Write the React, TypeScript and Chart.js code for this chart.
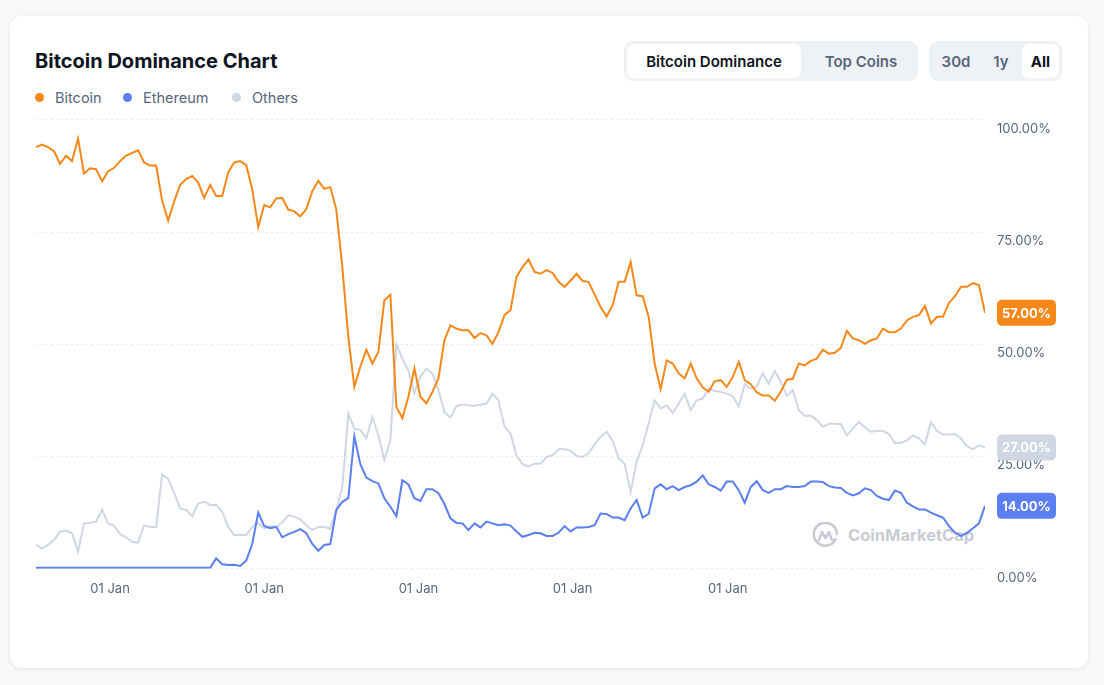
import React, { useEffect, useRef } from "react";
import { Chart, registerables } from "chart.js";

Chart.register(...registerables);

// Sampled roughly every two weeks, left to right.
const bitcoin = [
  93.9, 94.5, 93.9, 93.0, 90.2, 92.0, 90.8, 95.8, 88.0, 89.2,
  89.0, 86.3, 88.5, 89.3, 90.8, 92.0, 92.6, 93.2, 90.5, 89.8,
  89.8, 82.0, 77.5, 81.8, 85.5, 86.8, 87.5, 86.0, 82.6, 85.5,
  83.0, 83.0, 88.3, 90.5, 90.8, 89.9, 84.5, 76.1, 81.0, 80.5,
  82.5, 82.6, 80.0, 79.6, 78.5, 80.1, 84.1, 86.4, 84.6, 85.0,
  80.0, 67.2, 51.6, 40.5, 45.0, 48.8, 45.7, 48.3, 59.8, 61.0,
  36.0, 33.5, 38.3, 44.6, 38.3, 36.8, 39.4, 42.4, 50.9, 54.2,
  53.5, 53.1, 53.1, 51.4, 52.5, 52.0, 50.1, 52.7, 56.5, 57.6,
  65.0, 67.2, 68.9, 66.1, 65.7, 66.5, 65.9, 63.9, 62.8, 64.2,
  65.7, 64.1, 63.9, 61.1, 58.3, 56.2, 58.7, 63.9, 63.9, 68.3,
  60.9, 60.7, 56.1, 45.7, 40.0, 46.4, 45.7, 43.5, 42.4, 45.7,
  42.4, 40.4, 39.4, 41.8, 42.0, 40.5, 42.7, 46.1, 42.0, 41.1,
  39.3, 38.6, 38.6, 37.4, 39.4, 42.1, 42.3, 45.7, 45.3, 46.3,
  46.8, 48.8, 47.9, 48.1, 49.2, 53.0, 51.3, 50.9, 50.1, 50.9,
  51.3, 53.5, 52.7, 52.7, 53.5, 55.3, 56.1, 56.5, 58.5, 54.6,
  56.1, 56.1, 59.2, 60.7, 62.8, 62.8, 63.6, 63.2, 57.0,
];

const ethereum = [
  0.2, 0.2, 0.2, 0.2, 0.2, 0.2, 0.2, 0.2, 0.2, 0.2,
  0.2, 0.2, 0.2, 0.2, 0.2, 0.2, 0.2, 0.2, 0.2, 0.2,
  0.2, 0.2, 0.2, 0.2, 0.2, 0.2, 0.2, 0.2, 0.2, 0.2,
  2.3, 1.0, 0.8, 0.9, 0.6, 1.8, 5.5, 12.5, 9.5, 9.0,
  9.3, 7.0, 7.7, 8.2, 8.8, 7.9, 5.5, 4.0, 5.3, 5.5,
  13.1, 14.9, 15.7, 29.5, 23.3, 20.3, 19.5, 19.0, 15.7, 13.8,
  11.7, 19.7, 18.8, 15.7, 15.1, 17.7, 17.7, 16.8, 14.4, 11.2,
  10.2, 10.1, 8.6, 10.1, 9.2, 10.5, 10.1, 9.7, 9.9, 9.6,
  8.3, 7.1, 7.5, 8.0, 7.9, 7.3, 7.3, 8.0, 9.5, 8.3,
  9.2, 9.2, 9.3, 9.7, 12.3, 12.2, 11.4, 11.4, 10.8, 13.4,
  15.3, 11.4, 12.2, 17.9, 18.8, 17.7, 18.4, 17.5, 18.2, 18.6,
  19.4, 20.8, 18.8, 18.2, 17.4, 19.4, 19.4, 17.5, 14.7, 18.2,
  19.5, 17.5, 16.9, 17.7, 17.7, 18.4, 18.2, 18.2, 18.4, 19.4,
  19.4, 19.3, 18.4, 18.1, 18.0, 16.9, 16.3, 16.8, 17.9, 17.5,
  16.2, 15.6, 15.3, 17.4, 16.9, 14.7, 13.9, 13.2, 13.2, 12.5,
  11.9, 11.4, 9.5, 8.0, 7.3, 8.0, 9.0, 10.1, 14.0,
];

const others = [
  5.3, 4.5, 5.3, 6.4, 8.2, 8.5, 7.9, 3.8, 10.1, 10.2,
  10.5, 13.1, 10.1, 9.6, 7.7, 7.0, 6.0, 5.8, 9.7, 9.3,
  9.3, 21.0, 20.0, 16.9, 13.4, 13.1, 11.7, 14.5, 14.9, 14.2,
  14.2, 12.7, 9.3, 7.5, 7.5, 7.5, 9.3, 10.1, 9.0, 9.5,
  9.3, 10.3, 11.9, 11.6, 11.0, 9.7, 8.6, 9.3, 9.3, 8.9,
  13.1, 18.2, 34.5, 31.2, 30.9, 29.0, 33.8, 29.7, 24.2, 28.6,
  50.0, 46.8, 44.1, 39.2, 42.7, 44.6, 43.5, 39.8, 34.9, 33.7,
  36.2, 36.6, 36.4, 36.3, 36.5, 36.8, 39.0, 37.5, 31.6, 30.1,
  25.2, 23.3, 22.8, 23.4, 23.4, 24.9, 25.3, 26.6, 26.6, 26.3,
  25.1, 24.9, 25.7, 27.7, 29.4, 30.5, 28.5, 24.6, 23.3, 17.1,
  23.8, 27.5, 32.3, 37.5, 35.7, 36.4, 34.7, 36.8, 38.9, 35.3,
  37.5, 37.9, 40.1, 39.6, 39.4, 39.0, 38.4, 36.2, 41.1, 40.1,
  40.6, 43.5, 41.2, 44.1, 41.6, 38.5, 39.8, 35.3, 34.0, 34.1,
  33.1, 31.6, 32.3, 32.3, 32.2, 29.7, 31.2, 32.7, 31.5, 30.5,
  30.7, 30.7, 30.0, 28.0, 28.0, 28.6, 29.7, 29.0, 27.7, 32.7,
  30.7, 29.9, 29.9, 30.0, 29.0, 27.3, 26.6, 27.5, 27.0,
];

// Positions (in sample index units) where 1 January falls.
const janTickPositions = [12.33, 38, 63.67, 89.33, 115.17];
const janTickLabel = "01 Jan";
const yTickValues = [0, 25, 50, 75, 100];

const seriesNames = ["Bitcoin", "Ethereum", "Others"];
const seriesColors = ["#f68819", "#5b7ff0", "#cfd6e4"];

const FONT = "Inter, 'Noto Sans', sans-serif";

export default function App() {
  const canvasRef = useRef<HTMLCanvasElement | null>(null);

  useEffect(() => {
    document.body.style.margin = "0";
    const canvas = canvasRef.current;
    if (!canvas) return;
    const series = [bitcoin, ethereum, others];

    const badgePlugin = {
      id: "lastValueBadges",
      afterDraw(chart: any) {
        const { ctx, chartArea, scales } = chart;
        const order = [2, 1, 0];
        ctx.save();
        order.forEach((si) => {
          const arr = series[si];
          const v = arr[arr.length - 1];
          const y = scales.y.getPixelForValue(v);
          const x = chartArea.right + 12;
          const w = 59;
          const h = 26;
          ctx.fillStyle = seriesColors[si];
          ctx.beginPath();
          ctx.roundRect(x, y - h / 2, w, h, 5);
          ctx.fill();
          ctx.fillStyle = "#ffffff";
          ctx.font = `700 13px ${FONT}`;
          ctx.textAlign = "center";
          ctx.textBaseline = "middle";
          ctx.fillText(v.toFixed(2) + "%", x + w / 2, y + 1);
        });
        ctx.restore();
      },
    };

    const chart = new Chart(canvas, {
      type: "line",
      data: {
        datasets: series.map((arr, si) => ({
          label: seriesNames[si],
          data: arr.map((v, i) => ({ x: i, y: v })),
          borderColor: seriesColors[si],
          backgroundColor: seriesColors[si],
          borderWidth: 2,
          pointRadius: 0,
          tension: 0,
          order: si,
        })),
      },
      options: {
        animation: false,
        responsive: false,
        maintainAspectRatio: false,
        layout: { padding: { left: 16, top: 0, right: 0, bottom: 0 } },
        plugins: { legend: { display: false }, tooltip: { enabled: false } },
        scales: {
          x: {
            type: "linear",
            min: 0,
            max: bitcoin.length - 1,
            grid: { display: false, drawTicks: false },
            border: { display: false },
            afterBuildTicks: (scale: any) => {
              scale.ticks = janTickPositions.map((p) => ({ value: p }));
            },
            afterFit: (scale: any) => {
              scale.height = 41.3;
            },
            ticks: {
              autoSkip: false,
              maxRotation: 0,
              padding: 13,
              color: "#58667e",
              font: { family: FONT, size: 13 },
              callback: () => janTickLabel,
            },
          },
          y: {
            position: "right",
            min: 0,
            max: 100,
            afterBuildTicks: (scale: any) => {
              scale.ticks = yTickValues.map((v) => ({ value: v }));
            },
            afterFit: (scale: any) => {
              scale.width = 95;
            },
            grid: { color: "#e6e9ee", lineWidth: 1, drawTicks: false },
            border: { display: false, dash: [2, 3] },
            ticks: {
              padding: 12,
              labelOffset: 9,
              color: "#58667e",
              font: { family: FONT, size: 13 },
              callback: (v: any) => Number(v).toFixed(2) + "%",
            },
          },
        },
      },
      plugins: [badgePlugin],
    });
    return () => chart.destroy();
  }, []);

  const legendItem = (name: string, color: string, left: number) => (
    <div
      key={name}
      style={{
        position: "absolute",
        left,
        top: 88,
        height: 18,
        display: "flex",
        alignItems: "center",
        fontSize: 14.5,
        color: "#58667e",
      }}
    >
      <span
        style={{
          width: 9,
          height: 9,
          borderRadius: "50%",
          background: color,
          display: "inline-block",
          marginRight: 11,
        }}
      />
      {name}
    </div>
  );

  const legendLefts = [35, 123, 232];

  const tabText = {
    position: "absolute" as const,
    top: 44,
    height: 34,
    display: "flex",
    alignItems: "center",
    justifyContent: "center",
    fontSize: 15,
    fontWeight: 600,
    color: "#58667e",
  };

  return (
    <div
      style={{
        position: "fixed",
        inset: 0,
        width: 1104,
        height: 685,
        background: "#f7f8f9",
        fontFamily: FONT,
        overflow: "hidden",
      }}
    >
      <div
        style={{
          position: "absolute",
          left: 10,
          top: 16,
          width: 1078,
          height: 652,
          background: "#ffffff",
          borderRadius: 12,
          boxShadow: "0 1px 4px rgba(0,0,0,0.08)",
        }}
      />
      <div
        style={{
          position: "absolute",
          left: 35,
          top: 47,
          fontSize: 20,
          fontWeight: 700,
          color: "#0d1421",
          lineHeight: "28px",
        }}
      >
        Bitcoin Dominance Chart
      </div>
      {seriesNames.map((n, i) => legendItem(n, seriesColors[i], legendLefts[i]))}

      {/* tab group 1 */}
      <div
        style={{
          position: "absolute",
          left: 624,
          top: 41,
          width: 294,
          height: 40,
          background: "#eff2f5",
          borderRadius: 9,
        }}
      />
      <div
        style={{
          ...tabText,
          left: 627,
          width: 174,
          background: "#ffffff",
          borderRadius: 7,
          color: "#0d1421",
        }}
      >
        Bitcoin Dominance
      </div>
      <div style={{ ...tabText, left: 801, width: 120 }}>Top Coins</div>

      {/* tab group 2 */}
      <div
        style={{
          position: "absolute",
          left: 929,
          top: 41,
          width: 133,
          height: 40,
          background: "#eff2f5",
          borderRadius: 9,
        }}
      />
      <div style={{ ...tabText, left: 936, width: 40 }}>30d</div>
      <div style={{ ...tabText, left: 984, width: 34 }}>1y</div>
      <div
        style={{
          ...tabText,
          left: 1022,
          width: 37,
          background: "#ffffff",
          borderRadius: 7,
          fontWeight: 700,
          color: "#0d1421",
        }}
      >
        All
      </div>

      {/* watermark */}
      <div
        style={{
          position: "absolute",
          left: 812,
          top: 521,
          height: 28,
          display: "flex",
          alignItems: "center",
          opacity: 0.55,
          color: "#9aa2af",
          fontSize: 16.5,
          fontWeight: 700,
        }}
      >
        <svg width="27" height="27" viewBox="0 0 27 27" style={{ marginRight: 9 }}>
          <path
            d="M23.5 17.5 A11.5 11.5 0 1 1 24.8 12"
            fill="none"
            stroke="#9aa2af"
            strokeWidth="2.6"
            strokeLinecap="round"
          />
          <path
            d="M7 18 L10 10 L13.5 16 L17 10 L19.5 17 Q21 19.5 23.5 17.5"
            fill="none"
            stroke="#9aa2af"
            strokeWidth="2.6"
            strokeLinecap="round"
            strokeLinejoin="round"
          />
        </svg>
        CoinMarketCap
      </div>

      <canvas
        ref={canvasRef}
        width={1060}
        height={510}
        style={{ position: "absolute", left: 20, top: 100, width: 1060, height: 510 }}
      />
    </div>
  );
}
